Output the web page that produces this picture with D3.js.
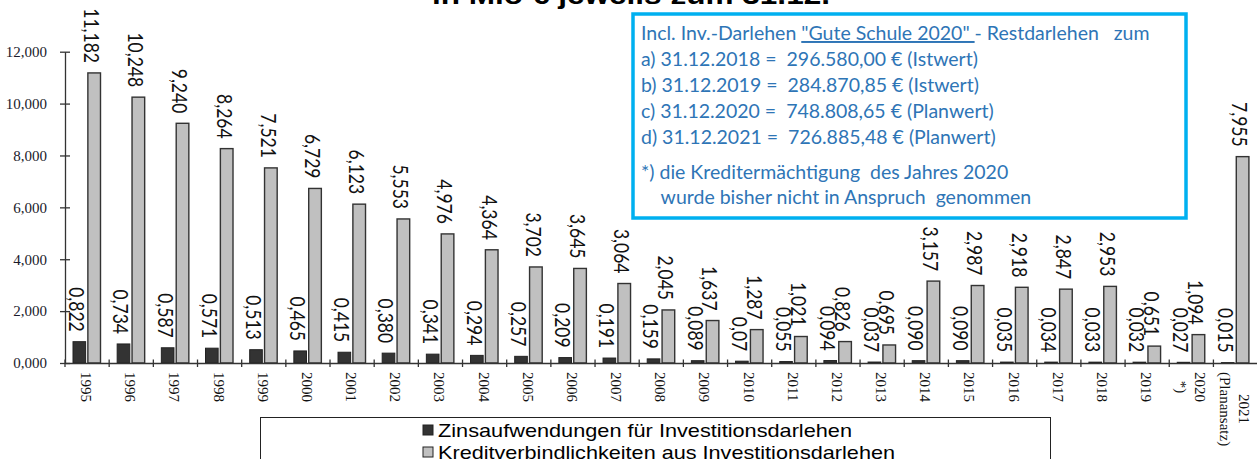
<!DOCTYPE html>
<html>
<head>
<meta charset="utf-8">
<script src="https://cdn.jsdelivr.net/npm/d3@7"></script>
<style>
  html, body { margin: 0; padding: 0; background: #fff; overflow: hidden; }
  svg { display: block; }
  text { white-space: pre; }
</style>
</head>
<body>
<svg id="chart" width="1257" height="459"></svg>
<script>
// ---------- data ----------
const categories = ["1995","1996","1997","1998","1999","2000","2001","2002","2003","2004",
  "2005","2006","2007","2008","2009","2010","2011","2012","2013","2014","2015","2016",
  "2017","2018","2019","2020|*)","2021|(Planansatz)"];
const zinsValues = [0.822,0.734,0.587,0.571,0.513,0.465,0.415,0.380,0.341,0.294,
  0.257,0.209,0.191,0.159,0.089,0.07,0.055,0.094,0.037,0.090,0.090,0.035,
  0.034,0.033,0.032,0.027,0.015];
const kreditValues = [11.182,10.248,9.240,8.264,7.521,6.729,6.123,5.553,4.976,4.364,
  3.702,3.645,3.064,2.045,1.637,1.287,1.021,0.826,0.695,3.157,2.987,2.918,
  2.847,2.953,0.651,1.094,7.955];
const zinsLabels = ["0,822","0,734","0,587","0,571","0,513","0,465","0,415","0,380","0,341","0,294",
  "0,257","0,209","0,191","0,159","0,089","0,07","0,055","0,094","0,037","0,090","0,090","0,035",
  "0,034","0,033","0,032","0,027","0,015"];
const yTicks = [0, 2, 4, 6, 8, 10, 12];
const seriesNames = ["Zinsaufwendungen für Investitionsdarlehen", "Kreditverbindlichkeiten aus Investitionsdarlehen"];
const titleText = "in Mio € jeweils zum 31.12.";
const infoLines = [
  ["Incl. Inv.-Darlehen ", "\"Gute Schule 2020\" ", "- Restdarlehen   zum"],
  ["a) 31.12.2018 =  296.580,00 € (Istwert)"],
  ["b) 31.12.2019 =  284.870,85 € (Istwert)"],
  ["c) 31.12.2020 =  748.808,65 € (Planwert)"],
  ["d) 31.12.2021 =  726.885,48 € (Planwert)"],
  ["*) die Kreditermächtigung  des Jahres 2020"],
  ["    wurde bisher nicht in Anspruch  genommen"]
];

// ---------- setup ----------
const svg = d3.select("#chart");
const de = d3.formatLocale({decimal: ",", thousands: ".", grouping: [3], currency: ["", " €"]});
const fmt3 = de.format(".3f");

const x0 = 65, step = 44.17;
const x = d3.scaleBand().domain(categories).range([x0, x0 + step * categories.length]).paddingInner(0).paddingOuter(0);
const xSub = d3.scaleBand().domain(["zins", "kredit"]).range([8, 35.5]).paddingInner(0.15);
const y = d3.scaleLinear().domain([0, 12]).range([363, 51.7]);

const rows = categories.map((c, i) => ({cat: c, zins: zinsValues[i], kredit: kreditValues[i], zl: zinsLabels[i], kl: fmt3(kreditValues[i])}));

// ---------- title (top line cut off) ----------
svg.append("text")
  .attr("x", 631).attr("y", 4)
  .attr("text-anchor", "middle")
  .attr("font-family", "Liberation Sans, Arial, sans-serif")
  .attr("font-weight", "bold")
  .attr("font-size", 25)
  .attr("textLength", 398).attr("lengthAdjust", "spacingAndGlyphs")
  .text(titleText);

// ---------- bars ----------
const g = svg.append("g");
const cat = g.selectAll("g.cat").data(rows).join("g").attr("class", "cat")
  .attr("transform", d => `translate(${x(d.cat)},0)`);

cat.append("rect")
  .attr("x", xSub("zins")).attr("width", xSub.bandwidth())
  .attr("y", d => y(d.zins)).attr("height", d => y(0) - y(d.zins))
  .attr("fill", "#333333").attr("stroke", "#222").attr("stroke-width", 1);

cat.append("rect")
  .attr("x", xSub("kredit")).attr("width", xSub.bandwidth())
  .attr("y", d => y(d.kredit)).attr("height", d => y(0) - y(d.kredit))
  .attr("fill", "#c0c0c0").attr("stroke", "#333").attr("stroke-width", 1.4);

// data labels
const labelFont = "Lato, Carlito, sans-serif";
cat.append("text")
  .attr("transform", d => `translate(${xSub("zins") + xSub.bandwidth() / 2 - 2},${y(d.zins) - 10}) rotate(90) scale(1,1.2)`)
  .attr("text-anchor", "end").attr("dominant-baseline", "central")
  .attr("font-family", labelFont).attr("font-size", 17.5).attr("fill", "#111")
  .text(d => d.zl);
cat.append("text")
  .attr("transform", d => `translate(${xSub("kredit") + xSub.bandwidth() / 2 - 2},${y(d.kredit) - 10}) rotate(90) scale(1,1.2)`)
  .attr("text-anchor", "end").attr("dominant-baseline", "central")
  .attr("font-family", labelFont).attr("font-size", 17.5).attr("fill", "#111")
  .text(d => d.kl);

// ---------- y axis ----------
const yAxis = svg.append("g").attr("transform", `translate(${x0},0)`)
  .call(d3.axisLeft(y).tickValues(yTicks).tickFormat(fmt3).tickSizeInner(5).tickSizeOuter(0).tickPadding(13));
yAxis.select(".domain").attr("stroke", "#333").attr("stroke-width", 1.3);
yAxis.selectAll(".tick line").attr("x1", 5).attr("x2", -5).attr("stroke", "#333").attr("stroke-width", 1.3);
yAxis.selectAll(".tick text").attr("font-family", "Liberation Serif, Times New Roman, serif")
  .attr("font-size", 15).attr("fill", "#1a1a2a");

// ---------- x axis ----------
const xAxis = svg.append("g").attr("transform", `translate(0,${y(0)})`)
  .call(d3.axisBottom(x).tickSize(0).tickFormat(""));
xAxis.select(".domain").attr("stroke", "#333").attr("stroke-width", 1.3);
xAxis.selectAll(".tick").remove();
xAxis.selectAll("line.bnd").data(categories).join("line").attr("class", "bnd")
  .attr("x1", d => x(d)).attr("x2", d => x(d)).attr("y1", -3.5).attr("y2", 4)
  .attr("stroke", "#333").attr("stroke-width", 1.3);

// rotated category labels (multi-line, block starts below axis)
const xl = svg.append("g");
categories.forEach(c => {
  const lines = c.split("|");
  const cx = x(c) + x.bandwidth() / 2 - 1;
  const grp = xl.append("g").attr("transform", `translate(${cx},372) rotate(90)`);
  const texts = lines.map((ln, i) => grp.append("text")
    .attr("y", (i - (lines.length - 1) / 2) * 19)
    .attr("dominant-baseline", "central")
    .attr("text-anchor", "middle")
    .attr("font-family", "Liberation Serif, Times New Roman, serif")
    .attr("font-size", 15).attr("fill", "#111")
    .text(ln));
  const maxLen = d3.max(texts, t => t.node().getComputedTextLength());
  texts.forEach(t => t.attr("x", maxLen / 2));
});

// ---------- info box ----------
const box = svg.append("g");
box.append("rect").attr("x", 633).attr("y", 14).attr("width", 553).attr("height", 204)
  .attr("fill", "#fff").attr("stroke", "#00b0f0").attr("stroke-width", 3.5);
const baselines = [40, 66, 92, 118, 144, 179, 204];
const infoTexts = infoLines.map((parts, i) => {
  const t = box.append("text").attr("x", 641).attr("y", baselines[i])
    .attr("font-family", "Lato, Carlito, sans-serif").attr("font-size", 17).attr("fill", "#2e75b6");
  parts.forEach((p, j) => {
    const ts = t.append("tspan").text(p);
    if (i === 0 && j === 1) ts.attr("text-decoration", "underline");
  });
  return t;
});
// fit font size so the first line spans the same width as in the reference
const w0 = infoTexts[0].node().getComputedTextLength();
const fs = 17 * 509 / w0;
infoTexts.forEach(t => t.attr("font-size", fs));

// ---------- legend ----------
const leg = svg.append("g");
leg.append("rect").attr("x", 260.5).attr("y", 417.5).attr("width", 790).attr("height", 60)
  .attr("fill", "#fff").attr("stroke", "#222").attr("stroke-width", 1);
const legFill = ["#333333", "#c0c0c0"];
const legLen = [414, 457];
seriesNames.forEach((s, i) => {
  const cy = 430 + i * 22;
  leg.append("rect").attr("x", 423).attr("y", cy - 5).attr("width", 10).attr("height", 10)
    .attr("fill", legFill[i]).attr("stroke", "#222").attr("stroke-width", 1);
  leg.append("text").attr("x", 438).attr("y", cy).attr("dominant-baseline", "central")
    .attr("font-family", "Liberation Sans, Arial, sans-serif").attr("font-size", 19).attr("fill", "#000")
    .attr("textLength", legLen[i]).attr("lengthAdjust", "spacingAndGlyphs")
    .text(s);
});
</script>
</body>
</html>
